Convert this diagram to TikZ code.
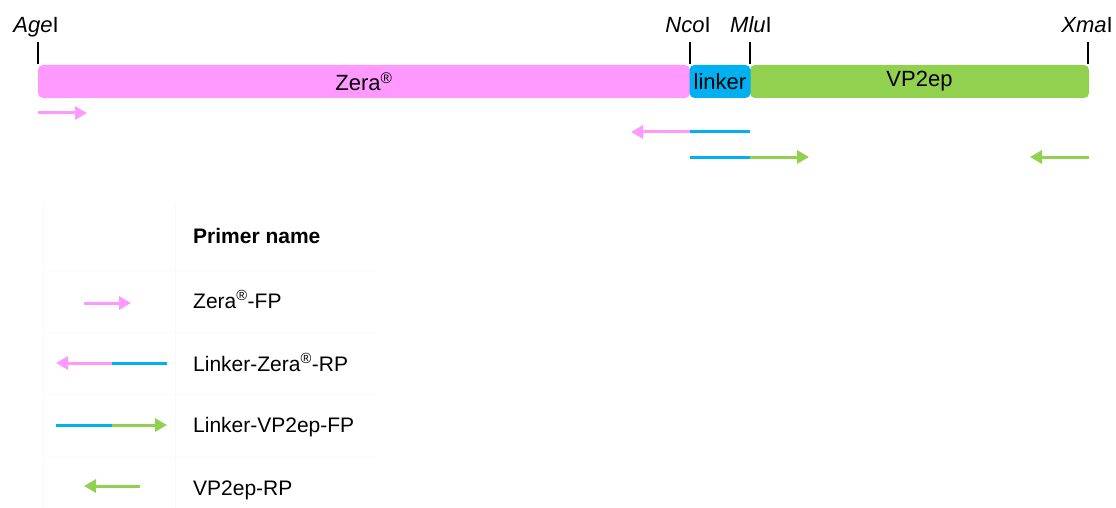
\documentclass[tikz,border=0pt]{standalone}
\usepackage{fontspec}
\setmainfont{Liberation Sans}
\usetikzlibrary{arrows.meta}

\definecolor{zerapink}{HTML}{FF99FF}
\definecolor{linkblue}{HTML}{00B0F0}
\definecolor{vpgreen}{HTML}{92D050}
\definecolor{gridfaint}{HTML}{F9F9F9}

\newcommand{\regmark}{\textsuperscript{\textregistered}}

\tikzset{
  segment/.style={draw=none, rounded corners=5pt, minimum height=33pt,
    inner sep=0pt, font=\fontsize{22}{26}\selectfont},
  sitelabel/.style={anchor=base, inner sep=0pt, font=\fontsize{22}{26}\selectfont},
  sitetick/.style={line width=1.6pt, black},
  primer/.style={line width=3pt},
  primerhead/.style={line width=3pt, -{Triangle[length=12pt,width=13pt]}},
  legendtext/.style={anchor=base west, inner sep=0pt, font=\fontsize{21}{25}\selectfont},
  grid/.style={draw=gridfaint, line width=0.8pt}
}

\begin{document}
\begin{tikzpicture}[x=1pt,y=-1pt]
\useasboundingbox (0,0) rectangle (1116,508);

% construct: Zera - linker - VP2ep
\node[segment, fill=zerapink, minimum width=652pt] (zera) at (364,81.5) {Zera\regmark};
\node[segment, fill=vpgreen, minimum width=339pt] (vp) at (919.5,81.5) {VP2ep};
\node[segment, fill=linkblue, minimum width=61pt] (linker) at (720,81.5) {linker};

% restriction sites
\coordinate (ageB) at (38,64);   \coordinate (ageT) at (38,42);
\coordinate (ncoB) at (690,64);  \coordinate (ncoT) at (690,42);
\coordinate (mluB) at (750,64);  \coordinate (mluT) at (750,42);
\coordinate (xmaB) at (1088,64); \coordinate (xmaT) at (1088,42);
\draw[sitetick] (ageB) -- (ageT);
\draw[sitetick] (ncoB) -- (ncoT);
\draw[sitetick] (mluB) -- (mluT);
\draw[sitetick] (xmaB) -- (xmaT);
\node[sitelabel] (age) at (36,33) {\textit{Age}I};
\node[sitelabel] (nco) at (688,33) {\textit{Nco}I};
\node[sitelabel] (mlu) at (751,33) {\textit{Mlu}I};
\node[sitelabel] (xma) at (1087,33) {\textit{Xma}I};

% primers on the construct
\coordinate (p1a) at (38,113);  \coordinate (p1b) at (87,113);
\draw[primerhead, zerapink] (p1a) -- (p1b);

\coordinate (p2a) at (750,132); \coordinate (p2m) at (690,132); \coordinate (p2b) at (631,132);
\draw[primer, linkblue] (p2a) -- (p2m);
\draw[primerhead, zerapink] (p2m) -- (p2b);

\coordinate (p3a) at (690,157); \coordinate (p3m) at (750,157); \coordinate (p3b) at (809,157);
\draw[primer, linkblue] (p3a) -- (p3m);
\draw[primerhead, vpgreen] (p3m) -- (p3b);

\coordinate (p4a) at (1089,157); \coordinate (p4b) at (1030,157);
\draw[primerhead, vpgreen] (p4a) -- (p4b);

% legend table grid
\draw[grid] (43,203) -- (43,508);
\draw[grid] (175,203) -- (175,508);
\foreach \yy in {270,332,394,457}
  \draw[grid] (43,\yy) -- (377,\yy);

% legend entries
\node[legendtext, font=\fontsize{21}{25}\selectfont\bfseries] (hdr) at (193,243) {Primer name};
\node[legendtext] (l1) at (193,308) {Zera\regmark-FP};
\node[legendtext] (l2) at (193,371) {Linker-Zera\regmark-RP};
\node[legendtext] (l3) at (193,432) {Linker-VP2ep-FP};
\node[legendtext] (l4) at (193,495) {VP2ep-RP};

\coordinate (k1a) at (84,303);  \coordinate (k1b) at (131,303);
\draw[primerhead, zerapink] (k1a) -- (k1b);

\coordinate (k2a) at (167,363); \coordinate (k2m) at (112,363); \coordinate (k2b) at (56,363);
\draw[primer, linkblue] (k2a) -- (k2m);
\draw[primerhead, zerapink] (k2m) -- (k2b);

\coordinate (k3a) at (56,425);  \coordinate (k3m) at (112,425); \coordinate (k3b) at (167,425);
\draw[primer, linkblue] (k3a) -- (k3m);
\draw[primerhead, vpgreen] (k3m) -- (k3b);

\coordinate (k4a) at (140,486); \coordinate (k4b) at (84,486);
\draw[primerhead, vpgreen] (k4a) -- (k4b);
\end{tikzpicture}
\end{document}
